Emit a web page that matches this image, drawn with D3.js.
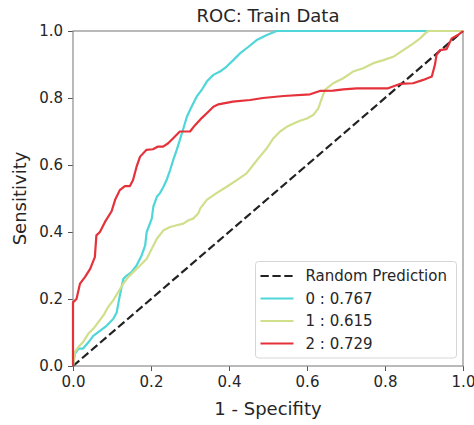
<!DOCTYPE html>
<html>
<head>
<meta charset="utf-8">
<script src="https://cdn.jsdelivr.net/npm/d3@7"></script>
<style>
  body { margin: 0; background: #fff; }
  svg text { font-family: "DejaVu Sans", sans-serif; fill: #262626; }
</style>
</head>
<body>
<div id="chart"></div>
<script>
// ROC points per class as [1 - specificity, sensitivity]
const class0Points = [[0,0],[0.005,0.037],[0.014,0.052],[0.026,0.052],[0.039,0.07],[0.052,0.09],[0.069,0.105],[0.086,0.12],[0.103,0.14],[0.112,0.16],[0.12,0.21],[0.129,0.26],[0.138,0.27],[0.15,0.28],[0.163,0.30],[0.176,0.33],[0.185,0.36],[0.189,0.40],[0.202,0.44],[0.206,0.476],[0.215,0.505],[0.223,0.516],[0.232,0.535],[0.24,0.555],[0.249,0.585],[0.257,0.615],[0.266,0.645],[0.274,0.675],[0.283,0.709],[0.292,0.744],[0.304,0.774],[0.317,0.804],[0.33,0.824],[0.343,0.849],[0.36,0.869],[0.377,0.879],[0.394,0.894],[0.411,0.913],[0.428,0.933],[0.45,0.953],[0.471,0.973],[0.497,0.988],[0.522,1.0],[1,1]];
const class1Points = [[0,0],[0.005,0.042],[0.014,0.057],[0.026,0.072],[0.039,0.096],[0.052,0.111],[0.065,0.131],[0.078,0.151],[0.09,0.176],[0.103,0.196],[0.116,0.221],[0.129,0.246],[0.142,0.266],[0.155,0.281],[0.172,0.30],[0.189,0.32],[0.202,0.35],[0.215,0.38],[0.232,0.405],[0.249,0.415],[0.266,0.42],[0.283,0.425],[0.296,0.435],[0.308,0.44],[0.321,0.455],[0.326,0.47],[0.343,0.496],[0.368,0.516],[0.394,0.535],[0.42,0.555],[0.445,0.575],[0.462,0.60],[0.479,0.625],[0.497,0.65],[0.514,0.68],[0.531,0.70],[0.548,0.714],[0.566,0.724],[0.582,0.732],[0.60,0.739],[0.616,0.749],[0.629,0.769],[0.638,0.799],[0.646,0.824],[0.667,0.844],[0.693,0.859],[0.718,0.879],[0.744,0.889],[0.77,0.904],[0.796,0.913],[0.821,0.923],[0.847,0.943],[0.873,0.963],[0.89,0.978],[0.903,0.993],[0.911,1.0],[1,1]];
const class2Points = [[0,0],[0,0.19],[0.009,0.20],[0.018,0.246],[0.031,0.266],[0.044,0.29],[0.056,0.325],[0.06,0.39],[0.069,0.40],[0.082,0.43],[0.099,0.462],[0.108,0.496],[0.12,0.525],[0.133,0.537],[0.146,0.537],[0.154,0.555],[0.163,0.595],[0.172,0.625],[0.188,0.645],[0.205,0.647],[0.218,0.655],[0.231,0.655],[0.244,0.665],[0.257,0.68],[0.274,0.70],[0.30,0.70],[0.313,0.719],[0.33,0.74],[0.347,0.759],[0.36,0.774],[0.373,0.781],[0.41,0.789],[0.454,0.794],[0.487,0.80],[0.54,0.806],[0.608,0.811],[0.633,0.821],[0.667,0.822],[0.693,0.826],[0.728,0.829],[0.808,0.829],[0.838,0.842],[0.872,0.844],[0.898,0.854],[0.92,0.864],[0.928,0.899],[0.932,0.928],[0.941,0.943],[0.958,0.946],[0.971,0.978],[0.987,0.988],[1,1]];
const randomPoints = [[0,0],[1,1]];

const classLabels = ['0 : 0.767', '1 : 0.615', '2 : 0.729'];
const classColors = ['#4fd6d8', '#cfdf8c', '#e5313a'];
const tickValues = [0, 0.2, 0.4, 0.6, 0.8, 1.0];

const margin = {top: 31, right: 11, bottom: 59, left: 73},
    width = 474 - margin.left - margin.right,
    height = 425 - margin.top - margin.bottom;

const svg = d3.select('#chart').append('svg')
    .attr('width', 474)
    .attr('height', 425);
const g = svg.append('g')
    .attr('transform', `translate(${margin.left},${margin.top})`);

const x = d3.scaleLinear().domain([0, 1]).range([0, width]);
const y = d3.scaleLinear().domain([0, 1]).range([height, 0]);

// axes
const xAxis = g.append('g')
    .attr('transform', `translate(0,${height})`)
    .call(d3.axisBottom(x).tickValues(tickValues).tickFormat(d3.format('.1f')).tickSizeOuter(0).tickSize(5).tickPadding(5));
const yAxis = g.append('g')
    .call(d3.axisLeft(y).tickValues(tickValues).tickFormat(d3.format('.1f')).tickSizeOuter(0).tickSize(5).tickPadding(5));
for (const ax of [xAxis, yAxis]) {
    ax.select('.domain').remove();
    ax.selectAll('line').attr('stroke', '#555').attr('stroke-width', 1);
    ax.selectAll('text').attr('font-size', 15).attr('fill', '#262626').attr('font-family', 'DejaVu Sans');
}

// frame
g.append('rect')
    .attr('x', 0).attr('y', 0)
    .attr('width', width).attr('height', height)
    .attr('fill', 'none')
    .attr('stroke', '#8c8c8c')
    .attr('stroke-width', 1.2);

const line = d3.line()
    .x(d => x(d[0]))
    .y(d => y(d[1]));

const plot = g.append('g');
plot.append('path')
    .datum(randomPoints)
    .attr('d', line)
    .attr('fill', 'none')
    .attr('stroke', '#222')
    .attr('stroke-width', 2.2)
    .attr('stroke-dasharray', '8.3,3.6');

[class0Points, class1Points, class2Points].forEach((pts, i) => {
    plot.append('path')
        .datum(pts)
        .attr('d', line)
        .attr('fill', 'none')
        .attr('stroke', classColors[i])
        .attr('stroke-width', 2.2)
        .attr('stroke-linejoin', 'round');
});

// title & labels
svg.append('text')
    .attr('x', margin.left + width / 2)
    .attr('y', 22)
    .attr('text-anchor', 'middle')
    .attr('font-size', 18)
    .text('ROC: Train Data');
svg.append('text')
    .attr('x', margin.left + width / 2)
    .attr('y', 415)
    .attr('text-anchor', 'middle')
    .attr('font-size', 18)
    .text('1 - Specifity');
svg.append('text')
    .attr('transform', `translate(26,${margin.top + height / 2}) rotate(-90)`)
    .attr('text-anchor', 'middle')
    .attr('font-size', 18)
    .text('Sensitivity');

// legend
const legendItems = [{label: 'Random Prediction', color: '#222', dash: '8.3,3.6'}]
    .concat(classLabels.map((l, i) => ({label: l, color: classColors[i], dash: null})));
const legend = svg.append('g').attr('transform', 'translate(255.5,261.5)');
legend.append('rect')
    .attr('width', 201).attr('height', 96.5)
    .attr('rx', 3)
    .attr('fill', '#fff').attr('fill-opacity', 0.8)
    .attr('stroke', '#d6d6d6').attr('stroke-width', 1);
legendItems.forEach((it, i) => {
    const yy = 14.5 + i * 22.5;
    legend.append('line')
        .attr('x1', 5).attr('x2', 38)
        .attr('y1', yy).attr('y2', yy)
        .attr('stroke', it.color)
        .attr('stroke-width', 2.2)
        .attr('stroke-dasharray', it.dash);
    legend.append('text')
        .attr('x', 50).attr('y', yy)
        .attr('dy', '0.35em')
        .attr('font-size', 15)
        .text(it.label);
});
</script>
</body>
</html>
